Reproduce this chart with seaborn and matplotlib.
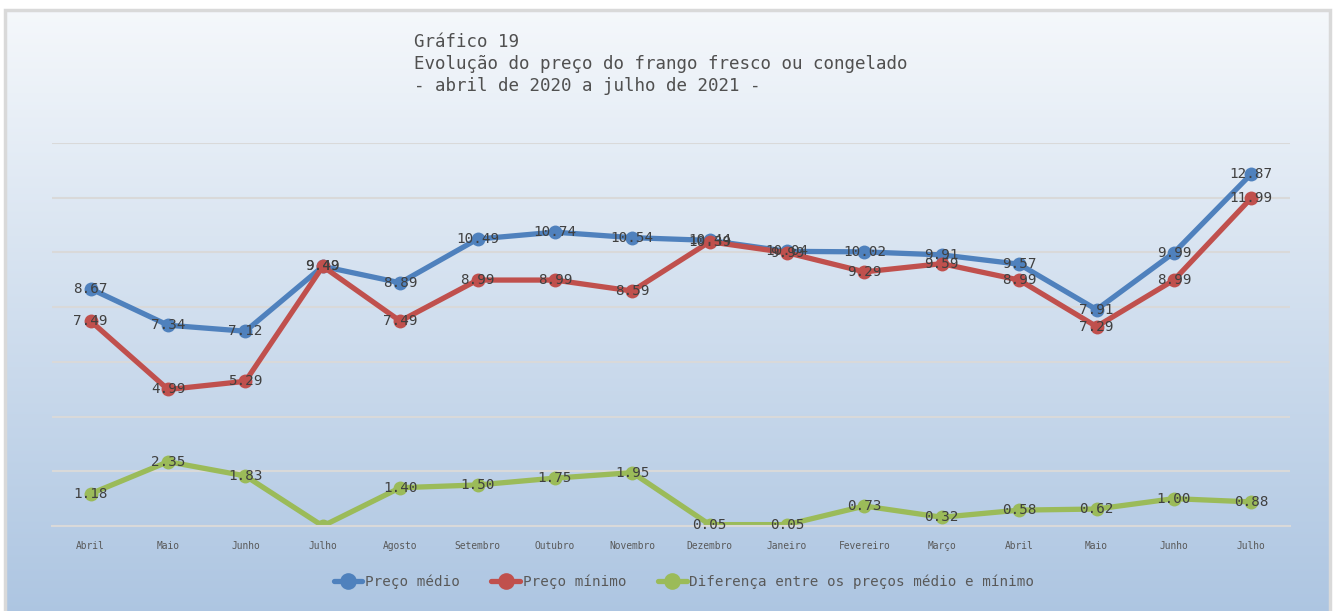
import numpy as np
import pandas as pd
import matplotlib
matplotlib.use("Agg")
import matplotlib.pyplot as plt
import seaborn as sns
from matplotlib.patches import Rectangle
from matplotlib.lines import Line2D

meses = ["Abril", "Maio", "Junho", "Julho", "Agosto", "Setembro", "Outubro", "Novembro",
         "Dezembro", "Janeiro", "Fevereiro", "Março", "Abril", "Maio", "Junho", "Julho"]
preco_medio = [8.67, 7.34, 7.12, 9.49, 8.89, 10.49, 10.74, 10.54,
               10.44, 10.04, 10.02, 9.91, 9.57, 7.91, 9.99, 12.87]
preco_minimo = [7.49, 4.99, 5.29, 9.49, 7.49, 8.99, 8.99, 8.59,
                10.39, 9.99, 9.29, 9.59, 8.99, 7.29, 8.99, 11.99]
diferenca = [1.18, 2.35, 1.83, 0.00, 1.40, 1.50, 1.75, 1.95,
             0.05, 0.05, 0.73, 0.32, 0.58, 0.62, 1.00, 0.88]

series_names = ["Preço médio", "Preço mínimo", "Diferença entre os preços médio e mínimo"]
colors = ["#4f81bd", "#c0504d", "#9bbb59"]

sns.set_theme(style="white")
plt.rcParams['font.family'] = ['DejaVu Sans Mono', 'DejaVu Sans']

W, H = 1335, 611
fig = plt.figure(figsize=(W / 100, H / 100), dpi=100)

# gradient background with frame
bg = fig.add_axes([0, 0, 1, 1], zorder=-10)
grad = np.linspace(0, 1, 256).reshape(-1, 1)
top = np.array([0.960, 0.972, 0.985])
bot = np.array([0.680, 0.775, 0.885])
img = top[None, None, :] * (1 - grad[:, :, None]) + bot[None, None, :] * grad[:, :, None]
bg.imshow(img, aspect='auto', extent=[5, W - 5, 0, H - 10], origin='upper')
bg.add_patch(Rectangle((5, -5), W - 10, H - 5, fill=False,
                       edgecolor="#d9d9d9", linewidth=2.5))
bg.set_xlim(0, W)
bg.set_ylim(0, H)
bg.axis('off')

left = 52 / W
right = 1290 / W
bottom = (H - 526) / H
topf = (H - 143) / H
ax = fig.add_axes([left, bottom, right - left, topf - bottom])
ax.patch.set_alpha(0)

x = np.arange(len(meses))
df = pd.DataFrame({"x": np.tile(x, 3),
                   "valor": preco_medio + preco_minimo + diferenca,
                   "serie": np.repeat(series_names, len(meses))})

sns.lineplot(data=df, x="x", y="valor", hue="serie", palette=dict(zip(series_names, colors)),
             marker="o", markersize=10, linewidth=3.8, markeredgewidth=0,
             ax=ax, legend=False, sort=False)

ax.set_xlim(-0.5, len(meses) - 0.5)
ax.set_ylim(0, 14)
ax.set_yticks(np.arange(0, 15, 2))
ax.yaxis.grid(True, color="#d9d9d9", linewidth=1.5)
ax.set_axisbelow(True)
ax.tick_params(axis='y', left=False, labelleft=False)
ax.set_xticks(x)
ax.set_xticklabels(meses, fontsize=6.9, color="#595959")
ax.tick_params(axis='x', length=0, pad=11)
for s in ["top", "right", "left"]:
    ax.spines[s].set_visible(False)
ax.spines["bottom"].set_color("#d9d9d9")
ax.spines["bottom"].set_linewidth(1.5)
ax.set_xlabel("")
ax.set_ylabel("")

for vals in [preco_medio, preco_minimo, diferenca]:
    for xi, v in zip(x, vals):
        if v == 0:
            continue
        ax.text(xi, v, f"{v:.2f}", ha="center", va="center", fontsize=10.3,
                color="#404040", zorder=5)

# legend
handles = [Line2D([0], [0], color=c, linewidth=3.8, marker="o", markersize=12,
                  markeredgewidth=0) for c in colors]
fig.legend(handles, series_names, loc="center", bbox_to_anchor=(684 / W, 1 - 582 / H),
           ncol=3, frameon=False, fontsize=10.3, handlelength=2.0, handletextpad=0.2,
           columnspacing=2.2, labelcolor="#595959")

fig.text(414 / W, 1 - 33 / H,
         "Gráfico 19\nEvolução do preço do frango fresco ou congelado\n- abril de 2020 a julho de 2021 -",
         ha="left", va="top", fontsize=12.6, color="#505050", linespacing=1.3)

fig.savefig("out.png", dpi=100)
